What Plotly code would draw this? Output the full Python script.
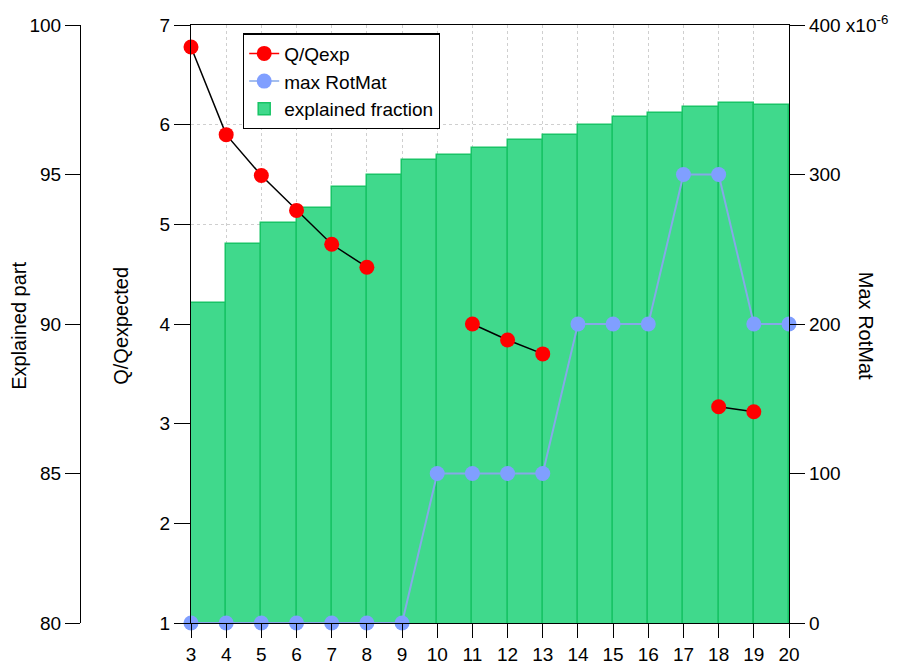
import plotly.graph_objects as go

# Number of factors
factors = list(range(3, 21))
bar_factors = list(range(3, 20))

# Explained fraction (%) per factor solution, bars span [n, n+1]
explained = [90.70, 92.68, 93.39, 93.87, 94.59, 94.98, 95.48, 95.65, 95.88,
             96.15, 96.32, 96.66, 96.91, 97.07, 97.25, 97.40, 97.31]

# Q/Qexpected (None where no solution)
q_ratio = [6.78, 5.90, 5.49, 5.14, 4.80, 4.57, None, None, 4.00, 3.84, 3.70,
           None, None, None, None, 3.17, 3.12, None]

# Max rotation matrix element, in units of 1e-6
max_rotmat = [0, 0, 0, 0, 0, 0, 0, 100, 100, 100, 100, 200, 200, 200, 300, 300, 200, 200]

rot_ticks = [0, 100, 200, 300, 400]
rot_ticktext = ["0", "100", "200", "300", "400 x10<sup>-6</sup>"]

W, H = 897, 668
FONT = "Liberation Sans, Arial, sans-serif"
BAR_FILL = "#40D98C"
BAR_EDGE = "#18C466"
RED = "#FF0000"
BLUE_M = "#809FFF"
BLUE_L = "#86A8E8"

fig = go.Figure()

fig.add_trace(go.Bar(
    x=bar_factors, y=explained, width=1, offset=0,
    marker=dict(color=BAR_FILL, line=dict(color=BAR_EDGE, width=1.5)),
    name="explained fraction", yaxis="y", showlegend=True, legendrank=3,
))

fig.add_trace(go.Scatter(
    x=factors, y=max_rotmat, mode="lines+markers", yaxis="y3",
    line=dict(color=BLUE_L, width=2),
    marker=dict(color=BLUE_M, size=15),
    name="max RotMat", cliponaxis=False, showlegend=False,
))

fig.add_trace(go.Scatter(
    x=factors, y=q_ratio, mode="lines+markers", yaxis="y2",
    line=dict(color="black", width=1.5),
    marker=dict(color=RED, size=15),
    connectgaps=False, name="Q/Qexp", cliponaxis=False, showlegend=False,
))

# legend entries
fig.add_trace(go.Scatter(x=[None], y=[None], mode="lines+markers", yaxis="y2",
                         line=dict(color=RED, width=1.5), marker=dict(color=RED, size=15),
                         name="Q/Qexp", legendrank=1))
fig.add_trace(go.Scatter(x=[None], y=[None], mode="lines+markers", yaxis="y3",
                         line=dict(color=BLUE_L, width=1.5), marker=dict(color=BLUE_M, size=15),
                         name="max RotMat", legendrank=2))

x0, x1 = 191 / W, 789 / W
tickfont = dict(family=FONT, size=19, color="black")
titlefont = dict(family=FONT, size=20, color="black")

fig.update_layout(
    width=W, height=H,
    margin=dict(l=0, r=0, t=25, b=45, autoexpand=False),
    paper_bgcolor="white", plot_bgcolor="white",
    font=dict(family=FONT, size=19, color="black"),
    bargap=0,
    legend=dict(
        x=243 / W, y=0.986, xanchor="left", yanchor="top",
        bgcolor="white", bordercolor="black", borderwidth=1.2,
        font=dict(family=FONT, size=19, color="black"),
        traceorder="normal", tracegroupgap=0,
    ),
    xaxis=dict(
        domain=[x0, x1], range=[3, 20], anchor="y2",
        tickmode="array", tickvals=factors,
        ticks="outside", ticklen=14, tickcolor="black", tickwidth=1.2,
        showline=True, linecolor="black", linewidth=1.2, mirror=True,
        showgrid=True, gridcolor="#CFCFCF", griddash="dot", gridwidth=1,
        zeroline=False, tickfont=tickfont, automargin=False,
    ),
    yaxis=dict(
        range=[80, 100], anchor="free", position=80 / W, side="left",
        tickvals=[80, 85, 90, 95, 100],
        ticks="outside", ticklen=15, tickcolor="black", tickwidth=1.2,
        showline=True, linecolor="black", linewidth=1.2,
        showgrid=False, zeroline=False, tickfont=tickfont, automargin=False,
    ),
    yaxis2=dict(
        range=[1, 7], overlaying="y", anchor="x", side="left",
        tickvals=[1, 2, 3, 4, 5, 6, 7],
        ticks="outside", ticklen=16, tickcolor="black", tickwidth=1.2,
        showline=True, linecolor="black", linewidth=1.2,
        showgrid=True, gridcolor="#CFCFCF", griddash="dot", gridwidth=1,
        zeroline=False, tickfont=tickfont, automargin=False,
    ),
    yaxis3=dict(
        range=[0, 400], overlaying="y", anchor="x", side="right",
        tickmode="array", tickvals=rot_ticks, ticktext=rot_ticktext,
        ticks="outside", ticklen=15, tickcolor="black", tickwidth=1.2,
        showline=True, linecolor="black", linewidth=1.2,
        showgrid=False, zeroline=False, tickfont=tickfont, automargin=False,
    ),
    annotations=[
        dict(text="Explained part", xref="paper", yref="paper", x=19 / W, y=0.497,
             xanchor="center", yanchor="middle",
             textangle=-90, showarrow=False, font=titlefont),
        dict(text="Q/Qexpected", xref="paper", yref="paper", x=121 / W, y=0.497,
             xanchor="center", yanchor="middle",
             textangle=-90, showarrow=False, font=titlefont),
        dict(text="Max RotMat", xref="paper", yref="paper", x=866 / W, y=0.497,
             xanchor="center", yanchor="middle",
             textangle=90, showarrow=False, font=titlefont),
    ],
)

fig.write_html("out.html")
